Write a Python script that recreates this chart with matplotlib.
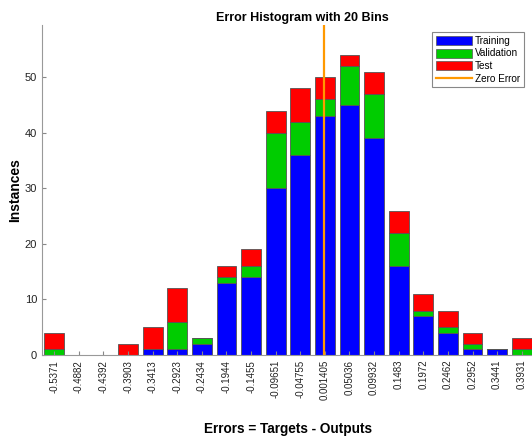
import numpy as np
import matplotlib
matplotlib.use("Agg")
import matplotlib.pyplot as plt
from matplotlib.patches import Patch
from matplotlib.lines import Line2D

plt.rcParams["font.family"] = ["Liberation Sans", "DejaVu Sans"]

# bin centres as printed on the x axis
bin_labels = ["-0.5371", "-0.4882", "-0.4392", "-0.3903", "-0.3413", "-0.2923",
              "-0.2434", "-0.1944", "-0.1455", "-0.09651", "-0.04755", "0.001405",
              "0.05036", "0.09932", "0.1483", "0.1972", "0.2462", "0.2952",
              "0.3441", "0.3931"]
training = [0, 0, 0, 0, 1, 1, 2, 13, 14, 30, 36, 43, 45, 39, 16, 7, 4, 1, 1, 0]
validation = [1, 0, 0, 0, 0, 5, 1, 1, 2, 10, 6, 3, 7, 8, 6, 1, 1, 1, 0, 1]
test = [3, 0, 0, 2, 4, 6, 0, 2, 3, 4, 6, 4, 2, 4, 4, 3, 3, 2, 0, 2]

centers = np.array([float(s) for s in bin_labels])
bw = (centers[-1] - centers[0]) / (len(centers) - 1)
training = np.array(training)
validation = np.array(validation)
test = np.array(test)
totals = training + validation + test

BLUE = "#0000ff"
GREEN = "#00cc00"
RED = "#ff0000"
ORANGE = "#ff9900"
EDGE = "#555555"

fig = plt.figure(figsize=(5.32, 4.36), dpi=100)
W, H = 532, 436
ax = fig.add_axes([42 / W, (H - 355) / H, 492 / W, 330 / H])

w = bw * 0.8
ax.bar(centers, training, width=w, color=BLUE, edgecolor=EDGE, linewidth=0.6)
ax.bar(centers, validation, width=w, bottom=training, color=GREEN,
       edgecolor=EDGE, linewidth=0.6)
ax.bar(centers, test, width=w, bottom=training + validation, color=RED,
       edgecolor=EDGE, linewidth=0.6)
ax.axvline(0, color=ORANGE, linewidth=1.6)

ax.set_xlim(centers[0] - bw / 2, centers[-1] + bw / 2)
ax.set_ylim(0, totals.max() * 1.1)
ax.set_yticks([0, 10, 20, 30, 40, 50])
ax.set_xticks(centers)
ax.set_xticklabels(bin_labels, rotation=90, fontsize=7)
ax.tick_params(axis="y", labelsize=8)
ax.tick_params(direction="in", length=3, color="#888888", labelcolor="#222222")

for side in ["top", "right"]:
    ax.spines[side].set_visible(False)
for side in ["left", "bottom"]:
    ax.spines[side].set_color("#999999")
    ax.spines[side].set_linewidth(0.8)

ax.set_title("Error Histogram with 20 Bins", fontsize=9, fontweight="bold",
             x=0.53, pad=3)
ax.set_ylabel("Instances", fontsize=10, fontweight="bold", labelpad=2)
ax.set_xlabel("Errors = Targets - Outputs", fontsize=9.8, fontweight="bold",
              labelpad=16)

handles = [Patch(facecolor=BLUE, edgecolor=EDGE, linewidth=0.5),
           Patch(facecolor=GREEN, edgecolor=EDGE, linewidth=0.5),
           Patch(facecolor=RED, edgecolor=EDGE, linewidth=0.5),
           Line2D([0], [0], color=ORANGE, linewidth=1.6)]
leg = ax.legend(handles, ["Training", "Validation", "Test", "Zero Error"],
                loc="upper left", bbox_to_anchor=(432 / W, 1 - 32 / H),
                bbox_transform=fig.transFigure, fontsize=7.2, handlelength=3.6,
                handleheight=1.0, handletextpad=0.3, labelspacing=0.25,
                borderpad=0.4, borderaxespad=0, fancybox=False, framealpha=1)
leg.get_frame().set_edgecolor("#888888")
leg.get_frame().set_linewidth(0.8)

fig.savefig("out.png", dpi=100)
